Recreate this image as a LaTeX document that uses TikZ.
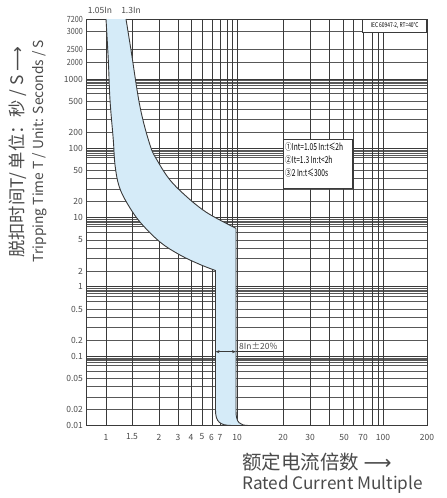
\documentclass[tikz,border=0pt]{standalone}
\usepackage{fontspec}
\newfontfamily\cjk{Noto Sans CJK SC}
\newfontfamily\dv{DejaVu Sans}
\usetikzlibrary{arrows.meta}
\definecolor{band}{HTML}{D5EBF8}
\definecolor{gridc}{HTML}{3A3A3A}
\definecolor{txt}{HTML}{4A4A4A}
\tikzset{
  major/.style={draw=gridc,line width=0.9pt},
  minor/.style={draw=gridc!85,line width=0.5pt},
  vline/.style={draw=gridc,line width=0.7pt},
  tick/.style={font=\cjk\fontsize{8.5}{9}\selectfont,text=txt,inner sep=0pt},
  legend/.style={font=\cjk\fontsize{9.5}{10}\selectfont,text=black,inner sep=0pt,anchor=west},
  bandline/.style={draw=gridc,line width=0.9pt},
}
\begin{document}
\begin{tikzpicture}[x=1pt,y=-1pt]
\useasboundingbox (0,0) rectangle (447,498);
% horizontal grid
\foreach \k in {0,...,4}{
  \pgfmathsetmacro\base{79+69.3*\k}
  \foreach \o in {1.7,3.2,4.5,6.5,8.9,14.7,22.2,30.2,40.7,53.4}
    \draw[minor] (86,\base+\o) -- (427,\base+\o);
  \draw[major] (86,\base) -- (427,\base);
}
\foreach \yy in {31.7,49.5,62.7}
  \draw[minor] (86,\yy) -- (427,\yy);
% vertical grid
\foreach \xx in {106,132,159,178,191,202,212,220,227,232,237,283,310,329,343,353,363,372,378,383}
  \draw[vline] (\xx,19) -- (\xx,425.5);
% frame
\draw[gridc,line width=1pt] (86,19) rectangle (427,425.5);
% IEC box
\node[draw=gridc,line width=0.7pt,fill=white,minimum width=64pt,minimum height=12.7pt,inner sep=0pt,anchor=north east] (iec) at (427,19) {};
\node[font=\cjk\fontsize{6.5}{7}\selectfont,inner sep=0pt] (iectxt) at (iec.center) {\scalebox{0.75}[1]{IEC 60947-2, RT=40°C}};
% legend box
\node[draw=gridc,line width=0.7pt,fill=white,minimum width=69pt,minimum height=49pt,inner sep=0pt,anchor=north west] (leg) at (283,139) {};
\node[legend] (l1) at (285,146.5) {\scalebox{0.7}[1]{①Int=1.05 In:t≤2h}};
\node[legend] (l2) at (285,159.5) {\scalebox{0.7}[1]{②It=1.3 In:t<2h}};
\node[legend] (l3) at (285,172.7) {\scalebox{0.7}[1]{③2 In:t≤300s}};
% band
\fill[band] plot[smooth,tension=0.6] coordinates {(106,19) (108.3,60) (110,100) (113.3,140) (115,165) (119,186) (127,203) (140,222) (160,242) (180,255) (200,264.5) (215.5,270.5)}
  -- (215.5,410) .. controls (215.5,422) and (220,425.5) .. (232,425.5) -- (249,425.5)
  .. controls (240,425.5) and (236,423) .. (236,411) -- (236,228.3)
  -- plot[smooth,tension=0.6] coordinates {(236,228.3) (217,218.5) (203,210) (187,197) (170,180) (157,160) (150,145) (140,106.7) (131,50) (126,19)} -- cycle;
\draw[bandline] plot[smooth,tension=0.6] coordinates {(106,19) (108.3,60) (110,100) (113.3,140) (115,165) (119,186) (127,203) (140,222) (160,242) (180,255) (200,264.5) (215.5,270.5)}
  -- (215.5,410) .. controls (215.5,422) and (220,425.5) .. (232,425.5);
\draw[bandline] (249,425.5) .. controls (240,425.5) and (236,423) .. (236,411) -- (236,228.3)
  plot[smooth,tension=0.6] coordinates {(236,228.3) (217,218.5) (203,210) (187,197) (170,180) (157,160) (150,145) (140,106.7) (131,50) (126,19)};
\draw[gridc,line width=1pt] (86,425.5) -- (427,425.5);
% 8In annotation
\coordinate (al) at (215.5,351.7);
\coordinate (ar) at (236,351.7);
\coordinate (ae) at (283,351.7);
\draw[gridc,line width=0.6pt,{Stealth[length=4pt,width=3pt]}-{Stealth[length=4pt,width=3pt]}] (al) -- (ar);
\draw[gridc,line width=0.6pt] (ar) -- (ae);
\node[tick,anchor=south west] (ann) at (239,349.5) {8In±20\%};
% top labels
\node[tick] (t105) at (100,10) {1.05In};
\node[tick] (t13) at (131,10) {1.3In};
% x tick labels
\foreach \xx/\lab in {106/1,132/1.5,159/2,178/3,191/4,202/5,211.5/6,220/7,237/10,283/20,310/30,344/50,363/70,383/100,427/200}
  \node[tick] (x\lab) at (\xx,437) {\lab};
% y tick labels
\foreach \yy/\lab in {19/7200,31.7/3000,49.5/2500,62.7/2000}
  \node[tick,anchor=east] (y\lab) at (83,\yy) {\scalebox{0.85}[1]{\lab}};
\foreach \yy/\lab in {79/1000,101.2/500,132.4/200,148.3/100,170.5/50,201.7/20,217.6/10,239.8/5,271/2,286.9/1,309.1/0.5,340.3/0.2,356.2/0.1,378.4/0.05,409.6/0.02,425.5/0.01}
  \node[tick,anchor=east] (y\lab) at (83,\yy) {\lab};
% axis titles
\node[rotate=90,font=\cjk\fontsize{17.3}{19}\selectfont,text=txt,inner sep=0pt] (ytitle1) at (18,152) {脱扣时间T/ 单位：秒 / S {\dv ⟶}};
\node[rotate=90,font=\cjk\fontsize{13.8}{15}\selectfont,text=txt,inner sep=0pt] (ytitle2) at (40,151) {Tripping Time T / Unit: Seconds / S};
\node[anchor=west,font=\cjk\fontsize{19.5}{21}\selectfont,text=txt,inner sep=0pt] (xtitle1) at (242,462) {额定电流倍数 {\dv ⟶}};
\node[anchor=west,font=\cjk\fontsize{17.2}{18}\selectfont,text=txt,inner sep=0pt] (xtitle2) at (242,485) {Rated Current Multiple};
\end{tikzpicture}
\end{document}
